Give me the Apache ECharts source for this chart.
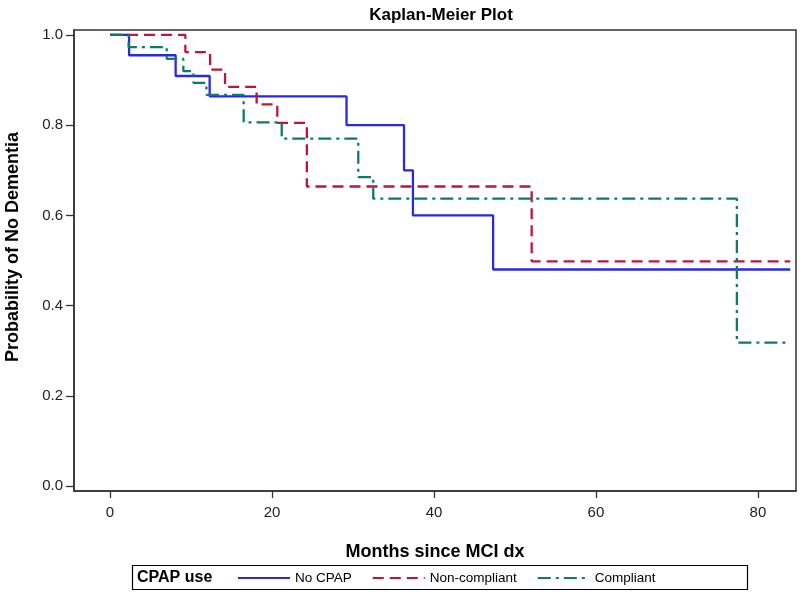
<!DOCTYPE html>
<html><head><meta charset="utf-8">
<script src="https://cdn.jsdelivr.net/npm/echarts@6/dist/echarts.min.js"></script>
<style>html,body{margin:0;padding:0;background:#fff}#c{width:800px;height:592px}</style>
</head><body><div id="c"></div>
<script>
const xTicks = [0, 20, 40, 60, 80];
const yTicks = [0, 0.2, 0.4, 0.6, 0.8, 1.0];
const groupNames = ['No CPAP', 'Non-compliant', 'Compliant'];
const noCpapTime = [0, 2.35, 8.1, 12.3, 29.2, 36.3, 37.4, 47.3, 84];
const noCpapSurv = [1, 0.955, 0.909, 0.864, 0.800, 0.700, 0.600, 0.480, 0.480];
const nonCompTime = [0, 9.3, 12.35, 14.2, 18.1, 20.65, 24.3, 52.06, 84];
const nonCompSurv = [1, 0.962, 0.923, 0.885, 0.846, 0.805, 0.664, 0.498, 0.498];
const compTime = [0, 2.3, 7.0, 9.05, 10.3, 11.9, 16.5, 21.2, 30.65, 32.5, 77.4, 84];
const compSurv = [1, 0.973, 0.947, 0.920, 0.894, 0.867, 0.806, 0.770, 0.685, 0.637, 0.318, 0.318];

const zip = (t, s) => t.map((v, i) => [v, s[i]]);
const FONT = '"Liberation Sans", Arial, sans-serif';

const chart = echarts.init(document.getElementById('c'), null, {renderer: 'canvas'});
chart.setOption({
  backgroundColor: '#fff',
  animation: false,
  textStyle: {fontFamily: FONT},
  title: {
    text: 'Kaplan-Meier Plot', left: 436, top: 2, textAlign: 'center',
    textStyle: {fontFamily: FONT, fontSize: 17, fontWeight: 'bold', color: '#000'}
  },
  grid: {left: 74, right: 4, top: 30, bottom: 101, show: true, borderColor: '#333', borderWidth: 1.5, backgroundColor: '#fff'},
  xAxis: {
    type: 'value', min: -4.45, max: 84.7,
    name: 'Months since MCI dx', nameLocation: 'middle', nameGap: 52,
    nameTextStyle: {fontFamily: FONT, fontSize: 18, fontWeight: 'bold', color: '#000'},
    axisLine: {show: true, onZero: false, lineStyle: {color: '#333', width: 1.5}},
    axisTick: {show: true, inside: false, length: 7, customValues: xTicks, lineStyle: {color: '#333', width: 1.3}},
    axisLabel: {customValues: xTicks, margin: 14, fontFamily: FONT, fontSize: 15, color: '#222'},
    splitLine: {show: false}
  },
  yAxis: {
    type: 'value', min: -0.011, max: 1.011,
    axisLine: {show: true, onZero: false, lineStyle: {color: '#333', width: 1.5}},
    axisTick: {show: true, inside: false, length: 8, customValues: yTicks, lineStyle: {color: '#333', width: 1.3}},
    axisLabel: {customValues: yTicks, margin: 11, fontFamily: FONT, fontSize: 15, color: '#222', formatter: v => v.toFixed(1)},
    splitLine: {show: false}
  },
  legend: {
    left: 232, top: 566, itemWidth: 52, itemHeight: 14, itemGap: 20,
    itemStyle: {opacity: 0},
    textStyle: {fontFamily: FONT, fontSize: 13.5, color: '#000'},
    data: groupNames
  },
  graphic: [
    {type: 'text', x: 13, y: 247, rotation: Math.PI / 2,
     style: {text: 'Probability of No Dementia', font: 'bold 18px ' + FONT, fill: '#000', align: 'center', verticalAlign: 'middle'}},
    {type: 'rect', left: 130, top: 563, shape: {width: 615, height: 24}, style: {fill: 'none', stroke: '#000', lineWidth: 1.2}, silent: true},
    {type: 'text', x: 137, y: 578, style: {text: 'CPAP use', font: 'bold 16px ' + FONT, fill: '#000', verticalAlign: 'middle'}}
  ],
  series: [
    {name: groupNames[0], type: 'line', step: 'end', symbol: 'none', data: zip(noCpapTime, noCpapSurv),
     lineStyle: {color: '#2929E0', width: 2.3, type: 'solid'}, itemStyle: {color: '#2929E0'}},
    {name: groupNames[1], type: 'line', step: 'end', symbol: 'none', data: zip(nonCompTime, nonCompSurv),
     lineStyle: {color: '#C0143C', width: 2.3, type: [11, 6]}, itemStyle: {color: '#C0143C'}},
    {name: groupNames[2], type: 'line', step: 'end', symbol: 'none', data: zip(compTime, compSurv),
     lineStyle: {color: '#0E7A6A', width: 2.3, type: [13, 5, 3, 5]}, itemStyle: {color: '#0E7A6A'}}
  ]
});
</script></body></html>
